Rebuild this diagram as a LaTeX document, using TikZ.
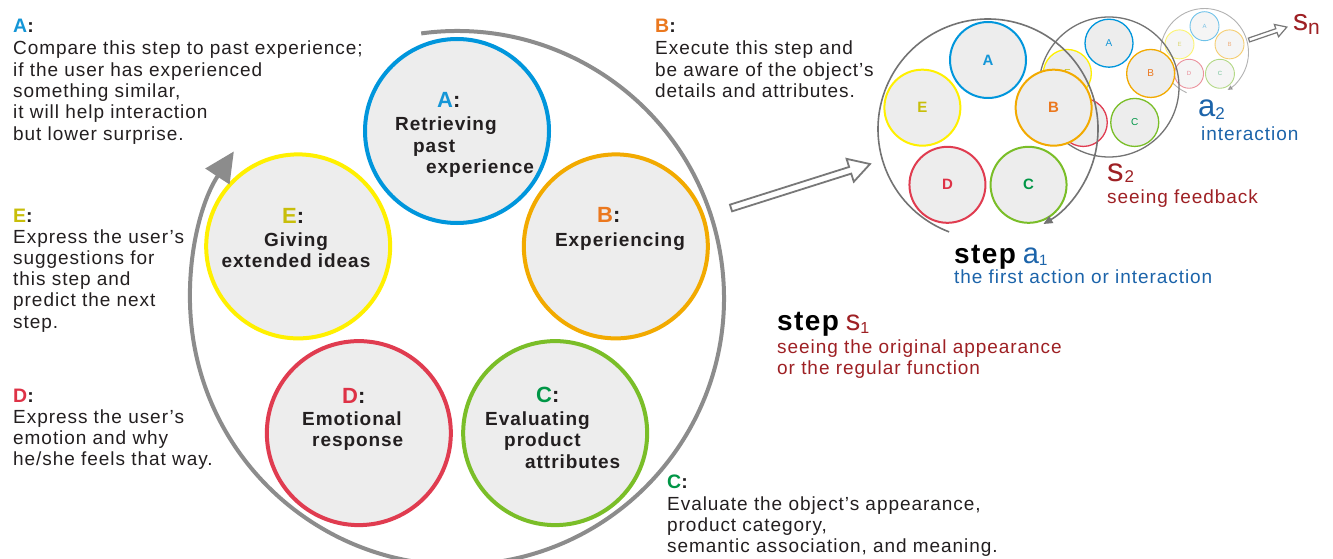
\documentclass[tikz,border=0pt]{standalone}
\usepackage{fontspec}
\setmainfont{Liberation Sans}[LetterSpace=5]
\usetikzlibrary{arrows.meta,calc}

% text colours
\definecolor{txtcol}{RGB}{35,31,32}
\definecolor{sred}{RGB}{158,32,36}
\definecolor{ablue}{RGB}{28,100,170}
% ring, arrow and fill colours
\definecolor{ringgray}{RGB}{140,140,140}
\definecolor{arcgray}{RGB}{115,115,115}
\definecolor{arrowgray}{RGB}{120,120,120}
\definecolor{cfill}{RGB}{237,237,237}
% stage circle outlines
\definecolor{strA}{RGB}{0,150,220}
\definecolor{strB}{RGB}{242,170,0}
\definecolor{strC}{RGB}{122,190,40}
\definecolor{strD}{RGB}{224,60,80}
\definecolor{strE}{RGB}{255,240,0}
% stage letters
\definecolor{letA}{RGB}{20,150,215}
\definecolor{letB}{RGB}{235,120,30}
\definecolor{letC}{RGB}{0,150,70}
\definecolor{letD}{RGB}{222,50,70}
\definecolor{letE}{RGB}{200,190,10}

% block of lines whose baseline is the first line
\newcommand{\textlines}[1]{\begin{tabular}[t]{@{}l@{}}#1\end{tabular}}
\newcommand{\textlinesc}[1]{\begin{tabular}[t]{@{}c@{}}#1\end{tabular}}

\tikzset{
  body/.style={anchor=base west, inner sep=0pt, text=txtcol,
    font=\fontsize{19}{21.3}\selectfont},
  head/.style={anchor=base west, inner sep=0pt, text=txtcol,
    font=\bfseries\fontsize{19.5}{21}\selectfont},
  stagecirc/.style={circle, fill=cfill, inner sep=0pt},
  ctitle/.style={anchor=base west, inner sep=0pt, text=txtcol,
    font=\bfseries\fontsize{22}{22}\selectfont},
  cbody/.style={anchor=base west, inner sep=0pt, text=txtcol,
    font=\bfseries\fontsize{19}{21.5}\selectfont},
  ring/.style={draw=ringgray, line width=4pt},
  hollow/.style={draw=arrowgray, fill=white, line join=miter},
  bigword/.style={anchor=base west, inner sep=0pt},
}

\begin{document}
\begin{tikzpicture}[x=1pt, y=1pt]
\fill[white] (0,0) rectangle (1333,-559);
\useasboundingbox (0,0) rectangle (1333,-559);

% ---------- main cycle of five stages ----------
\coordinate (ringc) at (457,-298);
\foreach \ang/\k in {90/A,18/B,-54/C,-126/D,162/E}
  \node[stagecirc, minimum size=184pt, line width=4pt, draw=str\k] (big\k)
    at ($(ringc)+(\ang:167)$) {};
\draw[ring, -{Triangle[length=30pt,width=28pt]}]
  (ringc) ++(97.7:267) arc[start angle=97.7, end angle=-213.3, radius=267];

% stage titles inside the circles
\node[ctitle] (tA) at (437,-108) {\textcolor{letA}{A}:};
\node[cbody] (lA) at (395,-131)
  {\textlines{Retrieving\\\hspace{18pt}past\\\hspace{31pt}experience}};
\node[ctitle] (tB) at (597,-222) {\textcolor{letB}{B}:};
\node[cbody, anchor=base] (lB) at (620,-246) {Experiencing};
\node[ctitle] (tE) at (282,-223) {\textcolor{letE}{E}:};
\node[cbody, anchor=base] (lE) at (296,-246)
  {\textlinesc{Giving\\extended ideas}};
\node[ctitle] (tD) at (342,-403) {\textcolor{letD}{D}:};
\node[cbody] (lD) at (302,-425) {\textlines{Emotional\\\hspace{10pt}response}};
\node[ctitle] (tC) at (536,-402) {\textcolor{letC}{C}:};
\node[cbody] (lC) at (485,-425)
  {\textlines{Evaluating\\\hspace{19pt}product\\\hspace{40pt}attributes}};

% ---------- explanations ----------
\node[head] (hA) at (13,-33) {\textcolor{letA}{A}:};
\node[body] (dA) at (13,-55) {\textlines{Compare this step to past experience;\\
  if the user has experienced\\something similar,\\it will help interaction\\
  but lower surprise.}};
\node[head] (hE) at (13,-222) {\textcolor{letE}{E}:};
\node[body] (dE) at (13,-243) {\textlines{Express the user’s\\suggestions for\\
  this step and\\predict the next\\step.}};
\node[head] (hD) at (13,-402) {\textcolor{letD}{D}:};
\node[body] (dD) at (13,-423) {\textlines{Express the user’s\\emotion and why\\
  he/she feels that way.}};
\node[head] (hB) at (655,-33) {\textcolor{letB}{B}:};
\node[body] (dB) at (655,-55) {\textlines{Execute this step and\\
  be aware of the object’s\\details and attributes.}};
\node[head] (hC) at (667,-488) {\textcolor{letC}{C}:};
\node[body] (dC) at (667,-510) {\textlines{Evaluate the object’s appearance,\\
  product category,\\semantic association, and meaning.}};

% step s1
\node[bigword] (s1) at (777,-330)
  {{\bfseries\fontsize{28}{28}\selectfont step}\hspace{7pt}\textcolor{sred}{%
   \fontsize{29}{29}\selectfont s\raisebox{-3pt}{\fontsize{16}{16}\selectfont 1}}};
\node[body, text=sred] (s1d) at (777,-353)
  {\textlines{seeing the original appearance\\or the regular function}};

% ---------- hollow arrow to the sequence of steps ----------
\coordinate (bigtail) at (731,-208);
\begin{scope}[shift={(bigtail)}, rotate=17.56]
  \draw[hollow, line width=1.8pt] (0,-3.5) -- (125,-3.5) -- (125,-12) -- (145.8,0)
    -- (125,12) -- (125,3.5) -- (0,3.5) -- cycle;
\end{scope}

% ---------- step s3 ... (faded, at the back) ----------
\coordinate (g3c) at (1204.5,-52.5);
\begin{scope}[opacity=0.55]
\foreach \ang/\k in {90/A,18/B,-54/C,-126/D,162/E}
  \node[stagecirc, minimum size=29pt, line width=0.9pt, draw=str\k, text=let\k,
    font=\fontsize{6}{6}\selectfont] (g3\k) at ($(g3c)+(\ang:26.3)$) {\k};
\draw[draw=arcgray, line width=0.9pt, -{Triangle[length=5pt,width=4.5pt]}]
  (g3c) ++(246:44) arc[start angle=246, end angle=-58.5, radius=44];
\end{scope}

% ---------- step s2 ----------
\coordinate (g2c) at (1109,-87);
\foreach \ang/\k in {90/A,18/B,-54/C,-126/D,162/E}
  \node[stagecirc, minimum size=48pt, line width=1.3pt, draw=str\k, text=let\k,
    font=\fontsize{10}{10}\selectfont] (g2\k) at ($(g2c)+(\ang:43.8)$) {\k};
\draw[draw=arcgray, line width=1.3pt] (g2c) circle[radius=70];

% ---------- step a1 ----------
\coordinate (g1c) at (988,-129);
\foreach \ang/\k in {90/A,18/B,-54/C,-126/D,162/E}
  \node[stagecirc, minimum size=76pt, line width=2pt, draw=str\k, text=let\k,
    font=\bfseries\fontsize{15}{15}\selectfont] (g1\k) at ($(g1c)+(\ang:69)$) {\k};
\draw[draw=arcgray, line width=1.6pt, -{Triangle[length=9pt,width=8pt]}]
  (g1c) ++(249.3:110) arc[start angle=249.3, end angle=-59.7, radius=110];

% small hollow arrow towards s_n
\coordinate (smalltail) at (1249,-40);
\begin{scope}[shift={(smalltail)}, rotate=18.9]
  \draw[hollow, line width=1.2pt] (0,-2) -- (29,-2) -- (29,-6.5) -- (40,0)
    -- (29,6.5) -- (29,2) -- (0,2) -- cycle;
\end{scope}

% ---------- labels of the step sequence ----------
\node[bigword] (a1) at (954,-263)
  {{\bfseries\fontsize{28}{28}\selectfont step}\hspace{7pt}\textcolor{ablue}{%
   \fontsize{29}{29}\selectfont a\raisebox{-2pt}{\fontsize{15}{15}\selectfont 1}}};
\node[body, text=ablue] (a1d) at (954,-283) {the first action or interaction};

\node[bigword, text=ablue] (a2) at (1198,-117)
  {\fontsize{31}{31}\selectfont a\raisebox{-3pt}{\fontsize{17}{17}\selectfont 2}};
\node[body, text=ablue] (a2d) at (1201,-140) {interaction};

\node[bigword, text=sred] (s2) at (1107,-182)
  {\fontsize{33}{33}\selectfont s\hspace{1pt}\raisebox{-1pt}{\fontsize{17}{17}\selectfont 2}};
\node[body, text=sred] (s2d) at (1107,-203) {seeing feedback};

\node[bigword, text=sred] (sn) at (1293,-30.5)
  {\fontsize{30}{30}\selectfont s\raisebox{-4pt}{\fontsize{21}{21}\selectfont n}};
\end{tikzpicture}
\end{document}
